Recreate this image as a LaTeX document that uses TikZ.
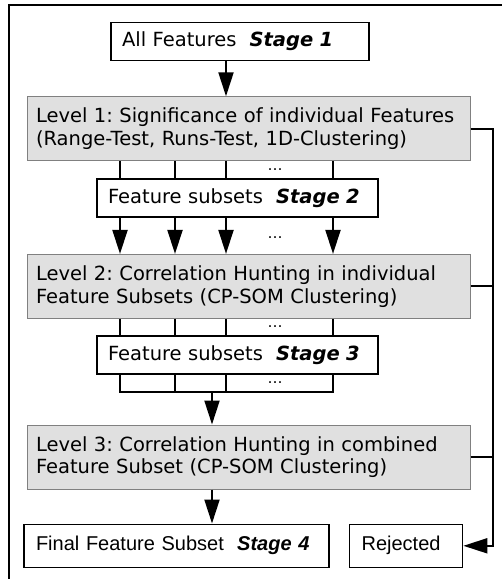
\documentclass[tikz,border=0pt]{standalone}
\usepackage{fontspec}
\setmainfont{DejaVu Sans}
\newfontfamily\endfont{Liberation Sans}
\usepackage{xcolor}
\usetikzlibrary{arrows.meta, positioning, calc}
\definecolor{levelfill}{HTML}{E0E0E0}
\definecolor{levelline}{HTML}{808080}
\frenchspacing

\begin{document}
\begin{tikzpicture}[x=1pt, y=1pt,
  stagebox/.style={draw=black, line width=1.6pt, align=left, inner xsep=11pt,
              minimum height=38pt, font=\fontsize{19.5}{22.5}\selectfont},
  endbox/.style={stagebox, inner xsep=12pt, minimum height=43pt,
              font=\endfont\fontsize{20}{23}\selectfont},
  levelbox/.style={draw=levelline, fill=levelfill, line width=1pt, align=left,
              inner xsep=9pt, text width=425pt, minimum height=64pt,
              font=\fontsize{19.5}{22.5}\selectfont},
  link/.style={line width=2pt},
  arr/.style={-{Triangle[length=24pt, width=15pt]}, line width=2pt},
  dotsnode/.style={font=\fontsize{15}{15}\selectfont, inner sep=0pt},
]
\useasboundingbox (0,0) rectangle (502,-579);
\draw[link] (9,-579) |- (502,-5);

% columns of the subset links
\coordinate (c1) at (120,0);
\coordinate (c2) at (175,0);
\coordinate (c3) at (226,0);
\coordinate (c4) at (333,0);
\coordinate (cd) at (275,0);
\coordinate (cm) at (212,0);
\coordinate (rt) at (493,0);

\node[stagebox, text width=236pt] (s1) at (240,-41.5) {All Features\ \ \textbf{\textit{Stage 1}}};
\node[levelbox, below=35pt of s1, xshift=8.5pt] (l1) {Level 1: Significance of individual Features\\
  (Range-Test, Runs-Test, 1D-Clustering)};
\node[stagebox, text width=259pt, below=17pt of l1, xshift=-11pt] (s2) {Feature subsets\ \ \textbf{\textit{Stage 2}}};
\node[levelbox, below=36pt of s2, xshift=11pt] (l2) {Level 2: Correlation Hunting in individual\\
  Feature Subsets (CP-SOM Clustering)};
\node[stagebox, text width=259pt, below=16pt of l2, xshift=-11pt] (s3) {Feature subsets\ \ \textbf{\textit{Stage 3}}};
\node[levelbox, below=50pt of s3, xshift=11pt] (l3) {Level 3: Correlation Hunting in combined\\
  Feature Subset (CP-SOM Clustering)};
\node[endbox, text width=281pt, below=34pt of l3, xshift=-72pt] (fin) {Final Feature Subset\ \ \textbf{\textit{Stage 4}}};
\node[endbox, text width=89pt, right=19pt of fin] (rej) {Rejected};

\draw[arr] (s1.south -| c3) -- (l1.north -| c3);
\foreach \c in {c1,c2,c3,c4} \draw[link] (l1.south -| \c) -- (s2.north -| \c);
\foreach \c in {c1,c2,c3,c4} \draw[arr] (s2.south -| \c) -- (l2.north -| \c);
\foreach \c in {c1,c2,c3,c4} \draw[link] (l2.south -| \c) -- (s3.north -| \c);
\coordinate (bar) at ($(s3.south)+(0,-17)$);
\draw[link] (s3.south -| c1) -- (bar -| c1) -- (bar -| c4) -- (s3.south -| c4);
\foreach \c in {c2,c3} \draw[link] (s3.south -| \c) -- (bar -| \c);
\draw[arr] (bar -| cm) -- (l3.north -| cm);
\draw[arr] (l3.south -| cm) -- (fin.north -| cm);

% rejected features
\draw[arr] (l1.east) -- (l1.east -| rt) -- (rej.east -| rt) -- (rej.east);
\draw[link] (l2.east) -- (l2.east -| rt);
\draw[link] (l3.east) -- (l3.east -| rt);

\node[dotsnode] (d1) at ($(l1.south -| cd)!0.5!(s2.north -| cd)$) {\dots};
\node[dotsnode] (d2) at ($(s2.south -| cd)!0.55!(l2.north -| cd)$) {\dots};
\node[dotsnode] (d3) at ($(l2.south -| cd)!0.5!(s3.north -| cd)$) {\dots};
\node[dotsnode] (d4) at ($(s3.south -| cd)!0.5!(bar -| cd)$) {\dots};
\end{tikzpicture}
\end{document}
